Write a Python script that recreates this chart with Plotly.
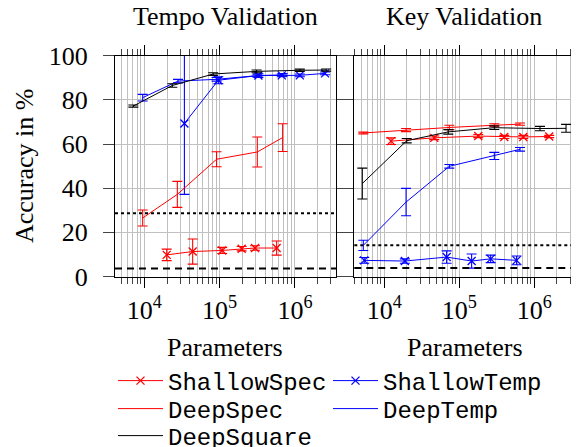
import plotly.graph_objects as go

# ---------------- data ----------------
# Tempo Validation (left panel)
tempo_shallowspec_x = [19800, 43800, 108000, 196000, 295000, 571000]
tempo_shallowspec_y = [9.8, 11.3, 11.8, 12.6, 12.9, 12.9]
tempo_shallowspec_e = [2.6, 5.7, 1.4, 1.0, 1.0, 3.2]

tempo_shallowtemp_x = [34000, 96000, 327000, 668000, 1160000, 2510000]
tempo_shallowtemp_y = [69.3, 88.9, 91.0, 91.1, 91.1, 92.0]
tempo_shallowtemp_e = [32.1, 1.6, 0.8, 0.6, 0.6, 0.6]

tempo_deepspec_x = [9500, 27400, 91000, 316000, 686000]
tempo_deepspec_y = [26.5, 37.2, 53.1, 56.4, 62.9]
tempo_deepspec_e = [3.6, 5.9, 3.4, 6.8, 6.3]

tempo_deeptemp_x = [9500, 28000, 91000, 316000, 686000]
tempo_deeptemp_y = [81.0, 88.5, 89.3, 91.0, 91.3]
tempo_deeptemp_e = [1.5, 0.8, 0.8, 0.6, 0.6]

tempo_deepsquare_x = [7140, 23500, 82000, 309000, 1160000, 2600000]
tempo_deepsquare_y = [77.2, 86.5, 91.7, 92.9, 93.4, 93.5]
tempo_deepsquare_e = [0.5, 0.8, 0.6, 0.6, 0.5, 0.5]

tempo_dotted = 28.6
tempo_dashed = 3.6

# Key Validation (right panel)
key_shallowspec_x = [12300, 46400, 179000, 398000, 713000, 1580000]
key_shallowspec_y = [61.3, 62.8, 63.6, 63.2, 63.2, 63.4]
key_shallowspec_e = [1.5, 0.8, 0.7, 0.7, 0.7, 0.5]

key_shallowtemp_x = [5400, 18800, 67800, 146000, 262000, 581000]
key_shallowtemp_y = [7.3, 7.0, 8.8, 7.0, 8.0, 7.3]
key_shallowtemp_e = [1.3, 1.0, 2.8, 3.2, 1.7, 2.0]

key_deepspec_x = [5250, 19500, 73600, 293000, 645000]
key_deepspec_y = [65.0, 66.3, 67.5, 68.5, 69.0]
key_deepspec_e = [0.4, 0.7, 1.0, 0.7, 0.5]

key_deeptemp_x = [5250, 19500, 73600, 293000, 645000]
key_deeptemp_y = [14.1, 33.7, 49.9, 54.6, 57.6]
key_deeptemp_e = [2.3, 6.2, 0.8, 1.6, 0.8]

key_deepsquare_x = [5090, 19900, 71300, 293000, 1190000, 2650000]
key_deepsquare_y = [42.1, 61.5, 65.5, 67.4, 67.0, 67.1]
key_deepsquare_e = [7.0, 1.0, 1.0, 0.8, 1.0, 1.8]

key_dotted = 14.1
key_dashed = 3.9

panel_titles = ["Tempo Validation", "Key Validation"]
x_title = "Parameters"
y_title = "Accuracy in %"
x_tickvals = [1e4, 1e5, 1e6]
x_ticktext = ["10<sup>4</sup>", "10<sup>5</sup>", "10<sup>6</sup>"]
y_tickvals = [0, 20, 40, 60, 80, 100]

# ---------------- styling ----------------
OFF = 8  # page body margin
W, H = 579 - OFF, 447 - OFF
SERIF = "Liberation Serif, Times New Roman, serif"
MONO = "Liberation Mono, Courier New, monospace"
RED = "#ff0000"
BLUE = "#0000ff"
BLACK = "#000000"
GRID = "#c0c0c0"

def px_x(p):
    return (p - OFF) / W

def px_y(p):
    return 1 - (p - OFF) / H

fig = go.Figure()

def add_series(x, y, e, name, color, marker, xa, ya, legend, show):
    fig.add_trace(go.Scatter(
        x=x, y=y, name=name,
        mode="lines+markers" if marker else "lines",
        line=dict(color=color, width=1),
        marker=dict(symbol="x-thin", size=8, line=dict(color=color, width=1.3), color=color),
        error_y=dict(type="data", array=e, visible=True, color=color, thickness=1.1, width=5),
        xaxis=xa, yaxis=ya, legend=legend, showlegend=show,
    ))

panels = [
    ("x", "y", [
        (tempo_shallowspec_x, tempo_shallowspec_y, tempo_shallowspec_e, "ShallowSpec", RED, True, "legend"),
        (tempo_shallowtemp_x, tempo_shallowtemp_y, tempo_shallowtemp_e, "ShallowTemp", BLUE, True, "legend"),
        (tempo_deepspec_x, tempo_deepspec_y, tempo_deepspec_e, "DeepSpec", RED, False, "legend2"),
        (tempo_deeptemp_x, tempo_deeptemp_y, tempo_deeptemp_e, "DeepTemp", BLUE, False, "legend2"),
        (tempo_deepsquare_x, tempo_deepsquare_y, tempo_deepsquare_e, "DeepSquare", BLACK, False, "legend3"),
    ], tempo_dotted, tempo_dashed, True),
    ("x2", "y2", [
        (key_shallowspec_x, key_shallowspec_y, key_shallowspec_e, "ShallowSpec", RED, True, "legend"),
        (key_shallowtemp_x, key_shallowtemp_y, key_shallowtemp_e, "ShallowTemp", BLUE, True, "legend"),
        (key_deepspec_x, key_deepspec_y, key_deepspec_e, "DeepSpec", RED, False, "legend2"),
        (key_deeptemp_x, key_deeptemp_y, key_deeptemp_e, "DeepTemp", BLUE, False, "legend2"),
        (key_deepsquare_x, key_deepsquare_y, key_deepsquare_e, "DeepSquare", BLACK, False, "legend3"),
    ], key_dotted, key_dashed, False),
]

for xa, ya, series, dotted, dashed, show in panels:
    for (x, y, e, name, color, marker, leg) in series:
        add_series(x, y, e, name, color, marker, xa, ya, leg, show)
    xref_dom = xa + " domain"
    fig.add_shape(type="line", xref=xref_dom, yref=ya, x0=0, x1=1, y0=dotted, y1=dotted,
                  line=dict(color=BLACK, width=2, dash="dot"))
    fig.add_shape(type="line", xref=xref_dom, yref=ya, x0=0, x1=1, y0=dashed, y1=dashed,
                  line=dict(color=BLACK, width=2, dash="7px,5px"))

minor_vals = [k * 10 ** p for p in range(3, 7) for k in range(2, 10)]

def xaxis(domain, rng, anchor):
    return dict(
        type="log", range=rng, domain=domain, anchor=anchor,
        tickvals=x_tickvals, ticktext=x_ticktext,
        ticks="outside", ticklen=10, tickwidth=1, tickcolor=BLACK,
        showline=True, linecolor=BLACK, linewidth=1.2, mirror="ticks",
        showgrid=True, gridcolor=GRID, gridwidth=1,
        minor=dict(tickvals=minor_vals, ticks="outside", ticklen=6, tickwidth=1,
                   tickcolor="#444444", showgrid=True, gridcolor=GRID, gridwidth=1),
        tickfont=dict(family=SERIF, size=26, color=BLACK),
        ticklabelstandoff=0,
        zeroline=False,
    )

def yaxis(domain, anchor, labels):
    return dict(
        range=[0, 100], domain=domain, anchor=anchor,
        tickvals=y_tickvals, showticklabels=labels,
        ticks="outside", ticklen=11, tickwidth=1, tickcolor="#444444",
        showline=True, linecolor=BLACK, linewidth=1.2, mirror="ticks",
        showgrid=True, gridcolor=GRID, gridwidth=1,
        tickfont=dict(family=SERIF, size=26, color=BLACK),
        ticklabelstandoff=10,
        zeroline=False,
    )

ydom = [px_y(276.5), px_y(55.7)]
fig.update_layout(
    width=W, height=H,
    margin=dict(l=0, r=0, t=0, b=0, autoexpand=False),
    paper_bgcolor="white", plot_bgcolor="white",
    xaxis=xaxis([px_x(115), px_x(336)], [3.61, 6.545], "y"),
    xaxis2=xaxis([px_x(354.3), px_x(575.7)], [3.6, 6.552], "y2"),
    yaxis=yaxis(ydom, "x", True),
    yaxis2=yaxis(ydom, "x2", False),
    showlegend=True,
)

leg_common = dict(orientation="h", xanchor="left", yanchor="middle",
                  font=dict(family=MONO, size=24, color=BLACK),
                  bgcolor="rgba(0,0,0,0)", borderwidth=0,
                  itemwidth=45, entrywidthmode="pixels", entrywidth=155,
                  traceorder="normal", itemclick=False)
fig.update_layout(
    legend=dict(x=px_x(113), y=px_y(381), **leg_common),
    legend2=dict(x=px_x(113), y=px_y(409), **leg_common),
    legend3=dict(x=px_x(113), y=px_y(436), **leg_common),
)

annos = [
    dict(text=panel_titles[0], x=px_x(225), y=px_y(17)),
    dict(text=panel_titles[1], x=px_x(464), y=px_y(17)),
    dict(text=x_title, x=px_x(225), y=px_y(347)),
    dict(text=x_title, x=px_x(465), y=px_y(347)),
]
for a in annos:
    fig.add_annotation(xref="paper", yref="paper", showarrow=False,
                       xanchor="center", yanchor="middle",
                       font=dict(family=SERIF, size=26, color=BLACK), **a)
fig.add_annotation(xref="paper", yref="paper", showarrow=False, text=y_title,
                   textangle=-90, x=px_x(24), y=px_y(166), xanchor="center", yanchor="middle",
                   font=dict(family=SERIF, size=26, color=BLACK))

fig.write_html("out.html")
